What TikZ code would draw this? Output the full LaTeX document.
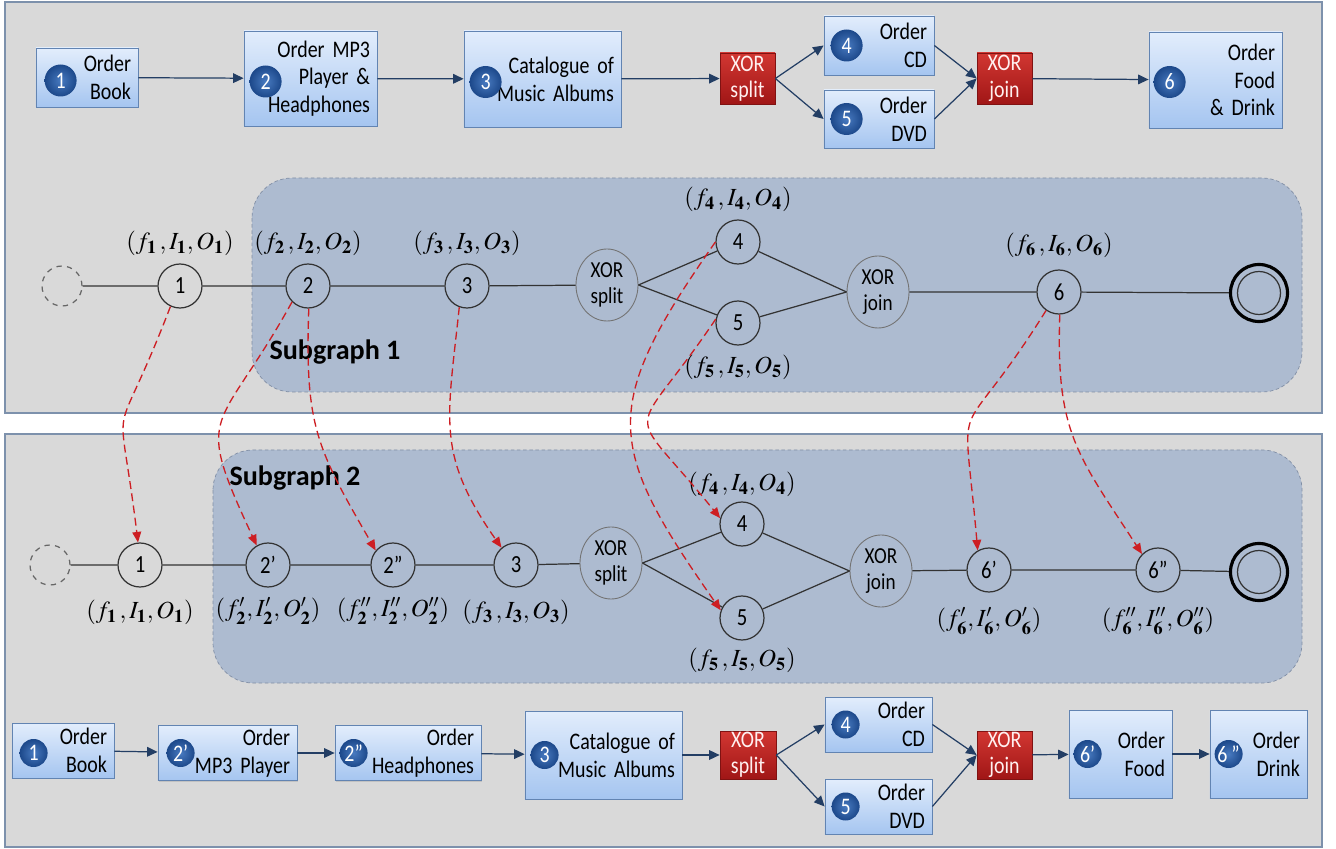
\documentclass[tikz,border=0pt]{standalone}
\usepackage{mathptmx}
\usepackage[no-math]{fontspec}
\setmainfont{Carlito}[FakeStretch=0.84]
\newfontfamily\subfont{Carlito}
\usetikzlibrary{arrows.meta,positioning,shapes.geometric,shadows}

\definecolor{panelgray}{RGB}{217,217,217}
\definecolor{panelline}{RGB}{125,145,172}
\definecolor{subfill}{RGB}{173,187,208}
\definecolor{subline}{RGB}{128,142,165}
\definecolor{tasktop}{RGB}{226,237,252}
\definecolor{taskbot}{RGB}{165,197,240}
\definecolor{taskline}{RGB}{98,132,178}
\definecolor{badgein}{RGB}{72,122,192}
\definecolor{badgeout}{RGB}{28,72,138}
\definecolor{xortop}{RGB}{210,55,50}
\definecolor{xorbot}{RGB}{160,22,22}
\definecolor{flowline}{RGB}{35,62,100}
\definecolor{mapred}{RGB}{205,30,35}

\newcommand{\fio}[1]{$(f_{\mathbf{#1}}\,,I_{\mathbf{#1}},O_{\mathbf{#1}})$}
\newcommand{\fiop}[2]{$(f^{#1}_{\mathbf{#2}},I^{#1}_{\mathbf{#2}},O^{#1}_{\mathbf{#2}})$}

\begin{document}
\begin{tikzpicture}[
		task/.style={draw=taskline, top color=tasktop, bottom color=taskbot, align=right, inner xsep=4pt, inner ysep=2pt, font=\fontsize{13.5}{15.8}\selectfont, drop shadow={opacity=0.25, shadow xshift=0.6pt, shadow yshift=-0.8pt}},
		xorbox/.style={draw=xorbot!80!black, top color=xortop, bottom color=xorbot, text=red!6, align=center, inner sep=0pt, font=\fontsize{13.5}{15}\selectfont, drop shadow={opacity=0.25, shadow xshift=0.6pt, shadow yshift=-0.8pt}},
		badge/.style={circle, inner sep=0pt, minimum size=0.64cm, inner color=badgein, outer color=badgeout, text=white, font=\fontsize{13.5}{15}\selectfont},
		flow/.style={flowline, line width=0.7pt, -{Triangle[length=6pt, width=5.5pt]}},
		act/.style={circle, draw=black!80, line width=0.7pt, minimum size=0.88cm, inner sep=0pt, font=\fontsize{14}{16}\selectfont},
		gate/.style={ellipse, draw=black!55, line width=0.5pt, minimum width=1.24cm, minimum height=1.44cm, inner sep=0pt, align=center, font=\fontsize{13}{15}\selectfont},
		link/.style={black!80, line width=0.7pt},
		tuple/.style={inner sep=0pt, font=\fontsize{14}{16}\selectfont},
		mapto/.style={mapred, line width=0.75pt, dash pattern=on 4.5pt off 2.5pt, -{Triangle[length=6pt, width=5pt]}},
		sublabel/.style={font=\fontsize{16}{18}\selectfont\subfont\bfseries}
	]
	\useasboundingbox (0,0) rectangle (26.72,-16.98);

	% the two panels and their subgraphs
	\filldraw[fill=panelgray, draw=panelline, line width=0.8pt] (0.1,-0.04) rectangle (26.44,-8.26);
	\filldraw[fill=panelgray, draw=panelline, line width=0.8pt] (0.1,-8.68) rectangle (26.44,-16.94);
	\filldraw[fill=subfill, draw=subline, line width=0.4pt, dash pattern=on 2pt off 1.5pt, rounded corners=0.8cm] (5.04,-3.56) rectangle (26.04,-7.84);
	\filldraw[fill=subfill, draw=subline, line width=0.4pt, dash pattern=on 2pt off 1.5pt, rounded corners=0.8cm] (4.26,-9.0) rectangle (26.04,-13.66);
	\node[sublabel] (s1) at (6.70,-7.04) {Subgraph 1};
	\node[sublabel] (s2) at (5.90,-9.56) {Subgraph 2};

	% process on top
	\node[task, text width=1.76cm, minimum height=1.18cm] (t1) at (1.74,-1.55) {Order\\Book};
	\node[task, text width=2.38cm, minimum height=1.90cm] (t2) at (6.21,-1.57) {Order MP3\\Player \&\\Headphones};
	\node[task, text width=2.86cm, minimum height=1.92cm] (t3) at (10.85,-1.58) {Catalogue of\\Music Albums};
	\node[xorbox, minimum width=1.10cm, minimum height=1.02cm] (ts) at (14.95,-1.57) {XOR\\split};
	\node[task, text width=1.92cm, minimum height=1.18cm] (t4) at (17.58,-0.91) {Order\\CD};
	\node[task, text width=1.92cm, minimum height=1.16cm] (t5) at (17.58,-2.38) {Order\\DVD};
	\node[xorbox, minimum width=1.10cm, minimum height=1.02cm] (tj) at (20.09,-1.57) {XOR\\join};
	\node[task, text width=2.38cm, minimum height=1.92cm] (t6) at (24.31,-1.60) {Order\\Food\\\& Drink};
	\node[badge] (t1n) at ([xshift=0.50cm, yshift=-0.06cm]t1.west) {1};
	\node[badge] (t2n) at ([xshift=0.44cm, yshift=-0.06cm]t2.west) {2};
	\node[badge] (t3n) at ([xshift=0.44cm, yshift=-0.06cm]t3.west) {3};
	\node[badge] (t4n) at ([xshift=0.46cm]t4.west) {4};
	\node[badge] (t5n) at ([xshift=0.46cm]t5.west) {5};
	\node[badge] (t6n) at ([xshift=0.42cm, yshift=-0.04cm]t6.west) {6};
	\draw[flow] (t1) -- (t2);
	\draw[flow] (t2) -- (t3);
	\draw[flow] (t3) -- (ts);
	\draw[flow] (ts.east) -- (t4.west);
	\draw[flow] (ts.east) -- (t5.west);
	\draw[flow] (t4.east) -- (tj.west);
	\draw[flow] (t5.east) -- (tj.west);
	\draw[flow] (tj) -- (t6);

	% graph of the top process
	\node[act, dashed, draw=black!60, minimum size=0.8cm] (gs) at (1.24,-5.72) {};
	\node[act] (g1) at (3.6,-5.72) {1};
	\node[act] (g2) at (6.16,-5.72) {2};
	\node[act] (g3) at (9.34,-5.72) {3};
	\node[gate] (gsp) at (12.14,-5.70) {XOR\\split};
	\node[act] (g4) at (14.76,-4.84) {4};
	\node[act] (g5) at (14.76,-6.46) {5};
	\node[gate] (gj) at (17.56,-5.84) {XOR\\join};
	\node[act] (g6) at (21.18,-5.84) {6};
	\node[act, draw=black, line width=1.8pt, minimum size=1.14cm] (ge) at (25.18,-5.86) {};
	\node[act, minimum size=0.86cm] (gei) at (ge) {};
	\draw[link] (gs) -- (g1) -- (g2) -- (g3) -- (gsp);
	\draw[link] (gsp.east) -- (g4) -- (gj.west);
	\draw[link] (gsp.east) -- (g5) -- (gj.west);
	\draw[link] (gj) -- (g6) -- (ge);
	\node[tuple, above=0.15cm of g1] (l1) {\fio{1}};
	\node[tuple, above=0.15cm of g2] (l2) {\fio{2}};
	\node[tuple, above=0.15cm of g3] (l3) {\fio{3}};
	\node[tuple, above=0.15cm of g4] (l4) {\fio{4}};
	\node[tuple, below=0.19cm of g5] (l5) {\fio{5}};
	\node[tuple, above=0.23cm of g6] (l6) {\fio{6}};

	% graph of the bottom process
	\node[act, dashed, draw=black!60, minimum size=0.8cm] (hs) at (1.0,-11.3) {};
	\node[act] (h1) at (2.8,-11.3) {1};
	\node[act] (h2a) at (5.36,-11.3) {2'};
	\node[act] (h2b) at (7.86,-11.3) {2''};
	\node[act] (h3) at (10.32,-11.3) {3};
	\node[gate] (hsp) at (12.22,-11.26) {XOR\\split};
	\node[act] (h4) at (14.84,-10.48) {4};
	\node[act] (h5) at (14.84,-12.36) {5};
	\node[gate] (hj) at (17.62,-11.42) {XOR\\join};
	\node[act] (h6a) at (19.78,-11.40) {6'};
	\node[act] (h6b) at (23.16,-11.40) {6''};
	\node[act, draw=black, line width=1.8pt, minimum size=1.14cm] (he) at (25.18,-11.44) {};
	\node[act, minimum size=0.86cm] (hei) at (he) {};
	\draw[link] (hs) -- (h1) -- (h2a) -- (h2b) -- (h3) -- (hsp);
	\draw[link] (hsp.east) -- (h4) -- (hj.west);
	\draw[link] (hsp.east) -- (h5) -- (hj.west);
	\draw[link] (hj) -- (h6a) -- (h6b) -- (he);
	\node[tuple, below=0.25cm of h1] (m1) {\fio{1}};
	\node[tuple, below=0.2cm of h2a] (m2a) {\fiop{\prime}{2}};
	\node[tuple, below=0.2cm of h2b] (m2b) {\fiop{\prime\prime}{2}};
	\node[tuple, below=0.25cm of h3] (m3) {\fio{3}};
	\node[tuple, above=0.09cm of h4] (m4) {\fio{4}};
	\node[tuple, below=0.15cm of h5] (m5) {\fio{5}};
	\node[tuple, below=0.3cm of h6a] (m6a) {\fiop{\prime}{6}};
	\node[tuple, below=0.3cm of h6b] (m6b) {\fiop{\prime\prime}{6}};

	% process at the bottom
	\node[task, text width=1.76cm, minimum height=1.10cm] (b1) at (1.26,-15.01) {Order\\Book};
	\node[task, text width=2.50cm, minimum height=1.08cm] (b2a) at (4.55,-15.06) {Order\\MP3 Player};
	\node[task, text width=2.64cm, minimum height=1.08cm] (b2b) at (8.16,-15.06) {Order\\Headphones};
	\node[task, text width=2.86cm, minimum height=1.76cm] (b3) at (12.07,-15.10) {Catalogue of\\Music Albums};
	\node[xorbox, minimum width=1.12cm, minimum height=0.96cm] (bs) at (14.96,-15.10) {XOR\\split};
	\node[task, text width=1.86cm, minimum height=1.10cm] (b4) at (17.57,-14.49) {Order\\CD};
	\node[task, text width=1.86cm, minimum height=1.10cm] (b5) at (17.57,-16.13) {Order\\DVD};
	\node[xorbox, minimum width=1.10cm, minimum height=0.96cm] (bj) at (20.09,-15.10) {XOR\\join};
	\node[task, text width=1.78cm, minimum height=1.76cm] (b6a) at (22.41,-15.08) {Order\\Food};
	\node[task, text width=1.66cm, minimum height=1.76cm] (b6b) at (25.17,-15.08) {Order\\Drink};
	\node[badge, minimum size=0.56cm] (b1n) at ([xshift=0.44cm, yshift=-0.05cm]b1.west) {1};
	\node[badge, minimum size=0.56cm] (b2an) at ([xshift=0.46cm]b2a.west) {2'};
	\node[badge, minimum size=0.56cm] (b2bn) at ([xshift=0.38cm]b2b.west) {2''};
	\node[badge, minimum size=0.56cm] (b3n) at ([xshift=0.40cm]b3.west) {3};
	\node[badge, minimum size=0.56cm] (b4n) at ([xshift=0.42cm]b4.west) {4};
	\node[badge, minimum size=0.56cm] (b5n) at ([xshift=0.42cm]b5.west) {5};
	\node[badge, minimum size=0.56cm] (b6an) at ([xshift=0.38cm]b6a.west) {6'};
	\node[badge, minimum size=0.56cm] (b6bn) at ([xshift=0.38cm]b6b.west) {6\,''};
	\draw[flow] (b1) -- (b2a);
	\draw[flow] (b2a) -- (b2b);
	\draw[flow] (b2b) -- (b3);
	\draw[flow] (b3) -- (bs);
	\draw[flow] (bs.east) -- (b4.west);
	\draw[flow] (bs.east) -- (b5.west);
	\draw[flow] (b4.east) -- (bj.west);
	\draw[flow] (b5.east) -- (bj.west);
	\draw[flow] (bj) -- (b6a);
	\draw[flow] (b6a) -- (b6b);

	% how the tasks are split between the two graphs
	\draw[mapto] (g1.245) to[out=249, in=97, looseness=1.8] (h1.95);
	\draw[mapto] (g2.225) to[out=241, in=115, looseness=1.6] (h2a.120);
	\draw[mapto] (g2.272) to[out=268, in=120, looseness=1.2] (h2b.140);
	\draw[mapto] (g3.250) to[out=264, in=125, looseness=1.2] (h3.130);
	\draw[mapto] (g4.180) to[out=235, in=125, looseness=1.4] (h5.160);
	\draw[mapto] (g5.170) to[out=236, in=129, looseness=2] (h4.165);
	\draw[mapto] (g6.235) to[out=238, in=95, looseness=1.8] (h6a.120);
	\draw[mapto] (g6.272) to[out=268, in=123, looseness=1.2] (h6b.135);
\end{tikzpicture}
\end{document}
